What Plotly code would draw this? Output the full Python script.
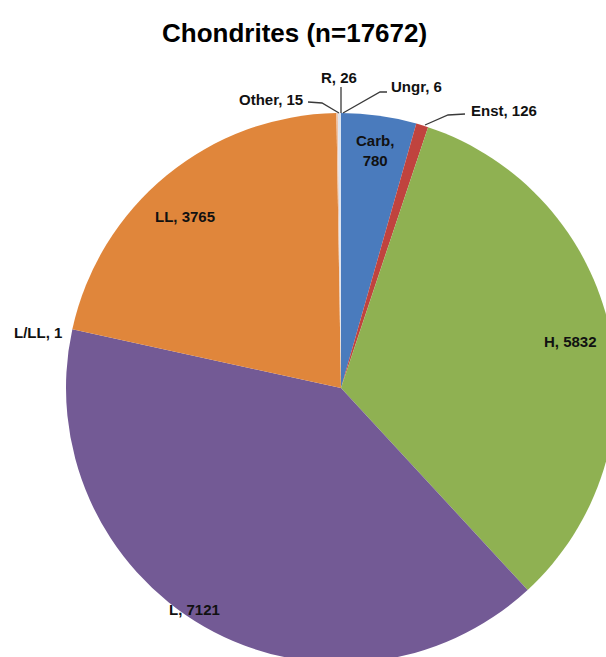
import plotly.graph_objects as go

# Chondrite classes and counts (clockwise from 12 o'clock)
classes = ["Carb", "Enst", "H", "L", "L/LL", "LL", "Other", "R", "Ungr"]
counts = [780, 126, 5832, 7121, 1, 3765, 15, 26, 6]
colors = ["#4a7bbd", "#c0433e", "#8fb152", "#735a95", "#4bacc6",
          "#e0863b", "#f0c3a6", "#dfe3ec", "#c9d8ee"]

W, H = 620, 670          # canvas a little larger than the viewport; pie is clipped at right/bottom
CX, CY, R = 341, 388, 275  # pie centre and radius in pixels

def px(x):
    return x / W

def py(y):
    return 1 - y / H

fig = go.Figure(go.Pie(
    labels=classes,
    values=counts,
    sort=False,
    direction="clockwise",
    rotation=0,
    marker=dict(colors=colors, line=dict(color="white", width=0)),
    textinfo="none",
    hoverinfo="label+value",
    showlegend=False,
    domain=dict(x=[px(CX - R), px(CX + R)], y=[py(CY + R), py(CY - R)]),
))

lab = dict(zip(classes, counts))
total = sum(counts)

# label anchor points (pixels) and horizontal anchoring of each text block
label_pos = {
    "Carb": (375, 150, "center", "{k},<br>{v}"),
    "Enst": (469, 110, "left", "{k}, {v}"),
    "H": (570, 341, "center", "{k}, {v}"),
    "L": (194, 609, "center", "{k}, {v}"),
    "L/LL": (38, 332, "center", "{k}, {v}"),
    "LL": (185, 216, "center", "{k}, {v}"),
    "Other": (305, 100, "right", "{k}, {v}"),
    "R": (339, 78, "center", "{k}, {v}"),
    "Ungr": (389, 87, "left", "{k}, {v}"),
}

annotations = []
for k, (x, y, anchor, fmt) in label_pos.items():
    annotations.append(dict(
        x=px(x), y=py(y), xref="paper", yref="paper",
        text="<b>" + fmt.format(k=k, v=lab[k]) + "</b>", showarrow=False,
        xanchor=anchor, yanchor="middle",
        font=dict(family="Liberation Sans, Arial, sans-serif", size=15, color="#111111"),
    ))

annotations.append(dict(
    x=px(294), y=py(33), xref="paper", yref="paper",
    text="<b>Chondrites (n=%d)</b>" % total, showarrow=False,
    xanchor="center", yanchor="middle",
    font=dict(family="Liberation Sans, Arial, sans-serif", size=26, color="#000000"),
))

# leader lines for the thin slices
leaders = [
    [(308, 102), (322, 103), (339, 113)],   # Other
    [(341, 87), (341, 113)],                # R
    [(387, 92), (380, 92), (343, 113)],     # Ungr
    [(465, 114), (448, 115), (425, 125)],   # Enst
]
shapes = []
for pts in leaders:
    path = "M " + " L ".join("%f,%f" % (px(x), py(y)) for x, y in pts)
    shapes.append(dict(type="path", path=path, xref="paper", yref="paper",
                       line=dict(color="#3a3a3a", width=1.3)))

fig.update_layout(
    width=W, height=H,
    margin=dict(l=0, r=0, t=0, b=0),
    paper_bgcolor="white", plot_bgcolor="white",
    annotations=annotations, shapes=shapes,
)

fig.write_html(
    "out.html",
    config={"displayModeBar": False},
    post_script="document.documentElement.style.overflow='hidden';"
                "document.body.style.overflow='hidden';"
                "document.body.style.margin='0';",
)
